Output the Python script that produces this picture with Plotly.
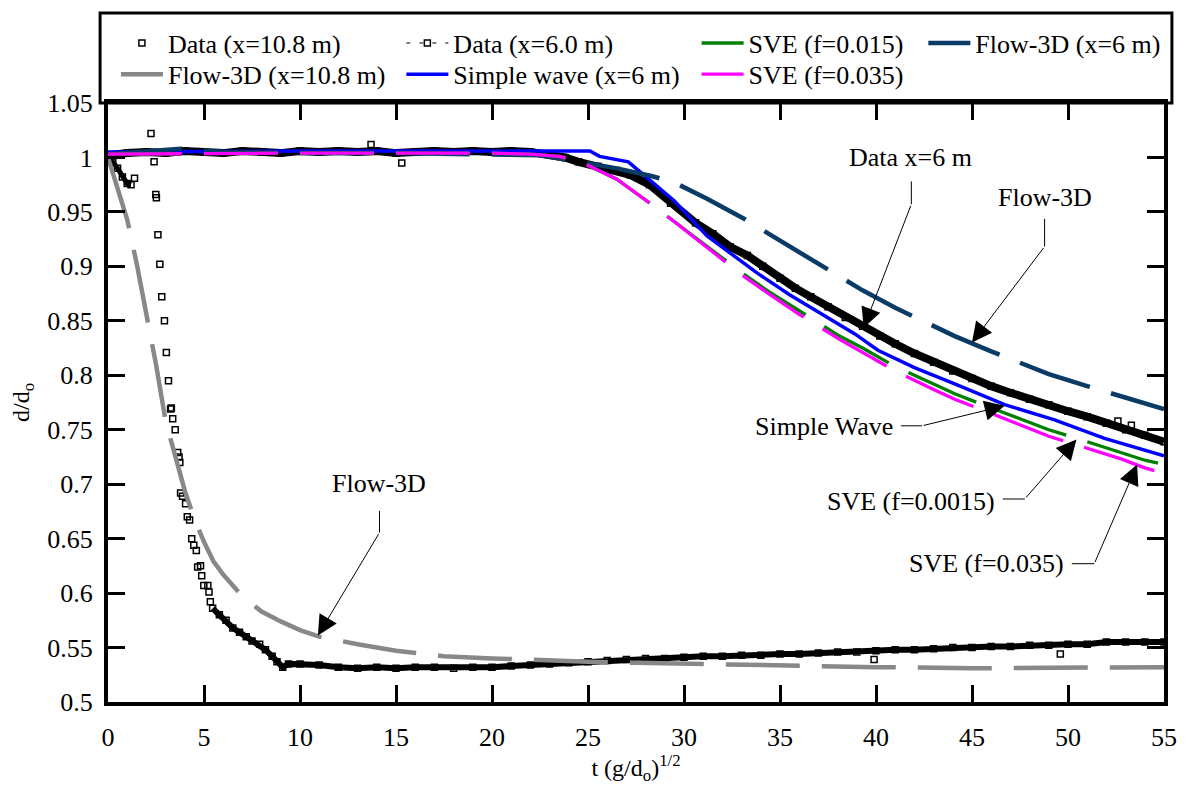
import plotly.graph_objects as go

# ---------------- data ----------------
# Data (x = 10.8 m): early dip, isolated squares of the fast drop, dense band
t108_dip = [0, 0.25, 0.5, 0.75, 1.0, 1.2]
d108_dip = [1.0, 0.996, 0.99, 0.982, 0.976, 0.975]

t108_pts = [1.38, 2.24, 2.4, 2.49, 2.52, 2.6, 2.7, 2.8, 2.94, 3.04, 3.15, 3.26, 3.3,
            3.37, 3.5, 3.63, 3.7, 3.74, 3.78, 3.88, 4.04, 4.13, 4.25, 4.36, 4.47,
            4.6, 4.67, 4.82, 4.88, 4.99, 5.2, 5.26, 5.33, 39.9, 49.6]
d108_pts = [0.981, 1.022, 0.996, 0.966, 0.963, 0.929, 0.902, 0.872, 0.85, 0.821,
            0.795, 0.769, 0.77, 0.76, 0.75, 0.729, 0.725, 0.72, 0.692, 0.689, 0.682,
            0.67, 0.667, 0.65, 0.644, 0.639, 0.624, 0.625, 0.616, 0.607, 0.607, 0.601,
            0.592, 0.539, 0.544]

t108_band = [5.45, 5.8, 6.15, 6.5, 6.85, 7.2, 7.5, 7.9, 8.2, 8.55, 8.8, 9.1, 9.4, 10,
             11, 12, 13, 14, 15, 16, 17, 18, 19, 20, 21, 22, 23, 24, 25, 26, 27, 28,
             29, 30, 31, 32, 33, 34, 35, 36, 37, 38, 39, 40, 41, 42, 43, 44, 45, 46,
             47, 48, 49, 50, 51, 52, 53, 54, 55]
d108_band = [0.586, 0.58, 0.575, 0.568, 0.564, 0.56, 0.556, 0.553, 0.548, 0.542, 0.537,
             0.532, 0.535, 0.535, 0.534, 0.532, 0.531, 0.532, 0.531, 0.532, 0.532, 0.531,
             0.532, 0.532, 0.533, 0.534, 0.535, 0.536, 0.537, 0.538, 0.539, 0.54, 0.54,
             0.541, 0.542, 0.542, 0.543, 0.543, 0.544, 0.544, 0.545, 0.546, 0.546, 0.547,
             0.548, 0.548, 0.549, 0.55, 0.55, 0.551, 0.551, 0.552, 0.552, 0.553, 0.553,
             0.555, 0.555, 0.555, 0.555]

# Data (x = 6.0 m)
t6 = [0, 0.5, 1, 2, 3, 4, 5, 6, 7, 8, 9, 10, 11, 12, 13, 14, 15, 16, 17, 18, 19, 20,
      21, 22, 23, 23.8, 24.5, 25.5, 26.5, 27.2, 28.2, 29.3, 30.6, 31.5, 32.4, 33.3,
      34.1, 35, 35.8, 36.6, 37.5, 38.4, 39.3, 40.2, 41, 42, 43, 44, 45, 46, 47, 48,
      49, 50, 51, 52, 53, 54, 55]
d6 = [1.0, 1.003, 1.004, 1.005, 1.004, 1.006, 1.005, 1.004, 1.006, 1.005, 1.004, 1.006,
      1.005, 1.006, 1.005, 1.006, 1.004, 1.005, 1.006, 1.005, 1.006, 1.005, 1.006,
      1.005, 1.003, 1.0, 0.996, 0.992, 0.988, 0.984, 0.975, 0.958, 0.94, 0.93, 0.918,
      0.91, 0.9, 0.889, 0.88, 0.872, 0.863, 0.853, 0.845, 0.836, 0.829, 0.82, 0.812,
      0.804, 0.797, 0.79, 0.784, 0.778, 0.773, 0.767, 0.762, 0.756, 0.75, 0.745, 0.739]
t6_pts = [13.7, 15.3, 52.6, 53.3]
d6_pts = [1.012, 0.995, 0.758, 0.754]

# Flow-3D (x = 10.8 m)
tF108 = [0, 0.5, 1, 1.5, 2, 2.5, 3, 3.5, 4, 4.5, 5, 5.5, 6, 7, 8, 9, 10, 11, 12, 13,
         15, 17.5, 20, 22.5, 25, 27.5, 30, 32.5, 35, 40, 45, 50, 55]
dF108 = [1.0, 0.972, 0.943, 0.902, 0.856, 0.81, 0.758, 0.727, 0.694, 0.668, 0.647,
         0.629, 0.617, 0.597, 0.583, 0.574, 0.566, 0.56, 0.556, 0.553, 0.547, 0.542,
         0.54, 0.538, 0.537, 0.536, 0.535, 0.534, 0.533, 0.532, 0.531, 0.532, 0.532]

# Flow-3D (x = 6 m)
tF6 = [0, 2, 3.8, 6, 10, 15, 20, 22.5, 23.5, 24.6, 26.5, 28.3, 29.5, 31.2, 33.2, 34.4,
       36, 38.1, 39.3, 41, 43, 44.1, 46, 47.9, 49, 51, 52.8, 54, 55]
dF6 = [1.003, 1.006, 1.008, 1.005, 1.004, 1.004, 1.003, 1.002, 0.999, 0.996, 0.99,
       0.983, 0.977, 0.962, 0.943, 0.93, 0.913, 0.89, 0.878, 0.862, 0.845, 0.836,
       0.822, 0.809, 0.801, 0.79, 0.781, 0.774, 0.769]

# Simple wave (x = 6 m)
tSW = [0, 10, 20, 25.1, 25.6, 27.1, 28.3, 29.5, 31.2, 33.8, 35.5, 38.9, 40.1, 42,
       44.1, 46.7, 49.3, 51.9, 55]
dSW = [1.005, 1.006, 1.006, 1.006, 1.001, 0.996, 0.978, 0.96, 0.928, 0.894, 0.874,
       0.838, 0.823, 0.807, 0.792, 0.773, 0.759, 0.742, 0.726]

# SVE curves
tSVE = [0, 10, 20, 22, 23.5, 24.3, 25.1, 26.5, 28.3, 29.5, 31.3, 33.1, 34.4, 36, 38.1,
        39.3, 41, 43, 44.1, 46, 47.9, 49, 51, 52.8, 54, 55]
dS015 = [1.003, 1.004, 1.004, 1.003, 1.001, 0.997, 0.992, 0.98, 0.957, 0.941, 0.917,
         0.893, 0.877, 0.859, 0.836, 0.825, 0.808, 0.792, 0.783, 0.77, 0.757, 0.75,
         0.739, 0.729, 0.722, 0.718]
dS035 = [1.003, 1.004, 1.004, 1.003, 1.001, 0.997, 0.992, 0.98, 0.957, 0.941, 0.916,
         0.891, 0.875, 0.856, 0.833, 0.821, 0.804, 0.787, 0.778, 0.765, 0.752, 0.744,
         0.733, 0.723, 0.715, 0.71]

x_ticks = [0, 5, 10, 15, 20, 25, 30, 35, 40, 45, 50, 55]
y_ticks = [0.5, 0.55, 0.6, 0.65, 0.7, 0.75, 0.8, 0.85, 0.9, 0.95, 1.0, 1.05]
y_tick_labels = ['0.5', '0.55', '0.6', '0.65', '0.7', '0.75', '0.8', '0.85', '0.9',
                 '0.95', '1', '1.05']

# ---------------- styling ----------------
FONT = "Liberation Serif, Times New Roman, serif"
FS = 26
GRAY = "#888888"
NAVY = "#0a3a66"
BLUE = "#0000ff"
GREEN = "#008000"
MAGENTA = "#ff00ff"
DASH = "74px,22px"
sq = dict(symbol="square-open", size=6, color="black", line=dict(width=1.5, color="black"))

fig = go.Figure()

# Data x=10.8 m
fig.add_trace(go.Scatter(x=t108_dip, y=d108_dip, mode="lines+markers",
                         line=dict(color="black", width=5), marker=sq, showlegend=False))
fig.add_trace(go.Scatter(x=t108_band, y=d108_band, mode="lines+markers",
                         line=dict(color="black", width=6), marker=sq, showlegend=False))
fig.add_trace(go.Scatter(x=t108_pts, y=d108_pts, mode="markers", marker=sq,
                         name="Data (x=10.8 m)", legend="legend"))
# Data x=6.0 m
fig.add_trace(go.Scatter(x=t6, y=d6, mode="lines+markers",
                         line=dict(color="black", width=8), marker=sq, showlegend=False))
fig.add_trace(go.Scatter(x=t6_pts, y=d6_pts, mode="markers", marker=sq, showlegend=False))
fig.add_trace(go.Scatter(x=[None], y=[None], mode="lines+markers",
                         line=dict(color="black", width=1, dash="4px,9px"), marker=sq,
                         name="Data (x=6.0 m)", legend="legend2"))
# Flow-3D x=10.8
fig.add_trace(go.Scatter(x=tF108, y=dF108, mode="lines",
                         line=dict(color=GRAY, width=4.5, dash=DASH),
                         name="Flow-3D (x=10.8 m)", legend="legend5"))
# Simple wave
fig.add_trace(go.Scatter(x=tSW, y=dSW, mode="lines", line=dict(color=BLUE, width=3.5),
                         name="Simple wave (x=6 m)", legend="legend6"))
# Flow-3D x=6
fig.add_trace(go.Scatter(x=tF6, y=dF6, mode="lines",
                         line=dict(color=NAVY, width=4.5, dash=DASH),
                         name="Flow-3D (x=6 m)", legend="legend4"))
# SVE
fig.add_trace(go.Scatter(x=tSVE, y=dS015, mode="lines",
                         line=dict(color=GREEN, width=3.3, dash=DASH),
                         name="SVE (f=0.015)", legend="legend3"))
fig.add_trace(go.Scatter(x=tSVE, y=dS035, mode="lines",
                         line=dict(color=MAGENTA, width=3.3, dash=DASH),
                         name="SVE (f=0.035)", legend="legend7"))

# ---------------- axes ----------------
ax_common = dict(showline=True, linewidth=4, linecolor="black", mirror="ticks",
                 ticks="inside", ticklen=17, tickwidth=3, tickcolor="black",
                 showgrid=False, zeroline=False,
                 tickfont=dict(family=FONT, size=FS, color="black"))

fig.update_xaxes(range=[0, 55], tickmode="array", tickvals=x_ticks,
                 ticktext=[str(v) for v in x_ticks], ticklabelstandoff=9,
                 title=dict(text="t (g/d<sub>o</sub>)<sup>1/2</sup>",
                            font=dict(family=FONT, size=24, color="black"), standoff=4),
                 **ax_common)
fig.update_yaxes(range=[0.5, 1.05], tickmode="array", tickvals=y_ticks,
                 ticktext=y_tick_labels, ticklabelstandoff=6,
                 title=dict(text="d/d<sub>o</sub>",
                            font=dict(family=FONT, size=24, color="black"), standoff=12),
                 **ax_common)

# ---------------- legends (one per entry, laid out as 4 columns x 2 rows) ----------------
def leg(x, y):
    return dict(x=x, y=y, xanchor="left", yanchor="middle", bgcolor="rgba(0,0,0,0)",
                borderwidth=0, itemwidth=42,
                font=dict(family=FONT, size=FS, color="black"))

col_x = [0.0075, 0.2778, 0.5574, 0.7721]
row_y = [1.1, 1.048]

fig.update_layout(
    width=1189, height=785,
    margin=dict(l=108, r=19, t=103, b=77),
    paper_bgcolor="white", plot_bgcolor="white",
    font=dict(family=FONT, size=FS, color="black"),
    legend=leg(col_x[0], row_y[0]),
    legend2=leg(col_x[1], row_y[0]),
    legend3=leg(col_x[2], row_y[0]),
    legend4=leg(col_x[3], row_y[0]),
    legend5=leg(col_x[0], row_y[1]),
    legend6=leg(col_x[1], row_y[1]),
    legend7=leg(col_x[2], row_y[1]),
)

# legend frame
fig.add_shape(type="rect", xref="paper", yref="paper", x0=-0.0075, x1=1.0075,
              y0=1.0, y1=1.1504, line=dict(color="black", width=3), fillcolor="rgba(0,0,0,0)")

# ---------------- annotations ----------------
# (label, label_x, label_y, leader_start, elbow, tip)
callouts = [
    ("Data x=6 m", 41.8, 1.0, (41.84, 0.978), (41.84, 0.957), (39.36, 0.8436)),
    ("Flow-3D", 48.78, 0.9636, (48.78, 0.9436), (48.78, 0.9182), (45.0, 0.83)),
    ("Simple Wave", 37.3, 0.7527, (41.3, 0.7536), (42.4, 0.7536), (46.7, 0.772)),
    ("SVE (f=0.0015)", 41.84, 0.6845, (46.6, 0.6864), (47.75, 0.6864), (50.44, 0.741)),
    ("SVE (f=0.035)", 45.78, 0.627, (50.2, 0.627), (51.37, 0.627), (53.6, 0.718)),
    ("Flow-3D", 14.09, 0.7009, (14.14, 0.6755), (14.14, 0.6555), (10.93, 0.561)),
]
for text, lx, ly, p0, p1, tip in callouts:
    fig.add_annotation(x=lx, y=ly, xref="x", yref="y", text=text, showarrow=False,
                       font=dict(family=FONT, size=FS, color="black"))
    fig.add_shape(type="line", xref="x", yref="y", x0=p0[0], y0=p0[1], x1=p1[0], y1=p1[1],
                  line=dict(color="black", width=1))
    fig.add_annotation(x=tip[0], y=tip[1], ax=p1[0], ay=p1[1], xref="x", yref="y",
                       axref="x", ayref="y", text="", showarrow=True, arrowhead=2,
                       arrowsize=4, arrowwidth=1, arrowcolor="black", standoff=0)

fig.write_html("out.html")
